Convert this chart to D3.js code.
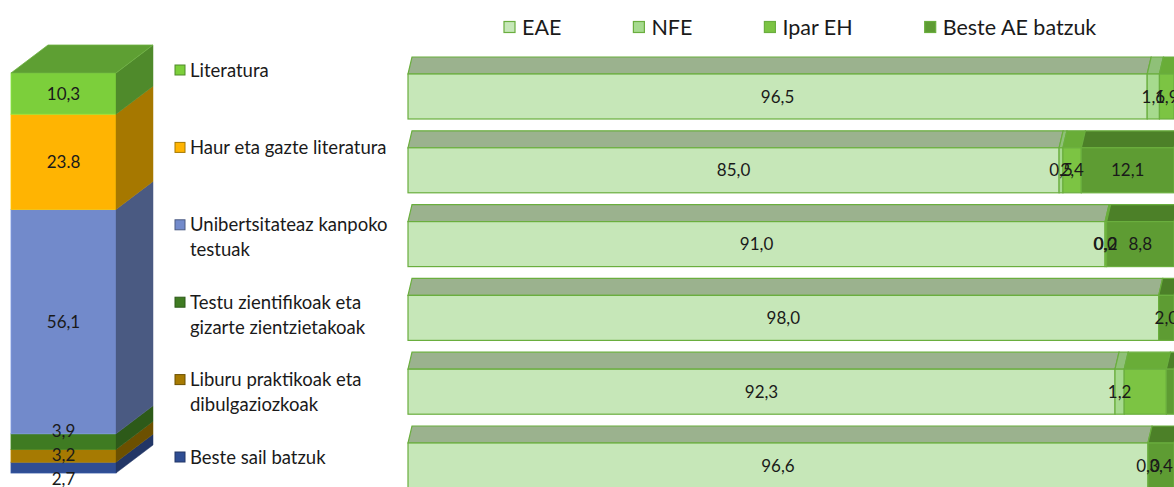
<!DOCTYPE html>
<html>
<head>
<meta charset="utf-8">
<script src="https://cdn.jsdelivr.net/npm/d3@7"></script>
<style>
  body { margin: 0; background: #fff; }
  text { font-family: Lato, "Open Sans", sans-serif; fill: #1a1a1a; }
</style>
</head>
<body>
<div id="chart"></div>
<script>
// categories, top to bottom
const categories = [
    "Literatura",
    "Haur eta gazte literatura",
    "Unibertsitateaz kanpoko testuak",
    "Testu zientifikoak eta gizarte zientzietakoak",
    "Liburu praktikoak eta dibulgaziozkoak",
    "Beste sail batzuk"
];
// legend lines (wrapped as in the picture)
const legendLines = [
    ["Literatura"],
    ["Haur eta gazte literatura"],
    ["Unibertsitateaz kanpoko", "testuak"],
    ["Testu zientifikoak eta", "gizarte zientzietakoak"],
    ["Liburu praktikoak eta", "dibulgaziozkoak"],
    ["Beste sail batzuk"]
];
// share of each category (left stacked column)
const shares = [10.3, 23.8, 56.1, 3.9, 3.2, 2.7];
const shareLabels = ["10,3", "23.8", "56,1", "3,9", "3,2", "2,7"];

// origin split per category (right bars), null = no label
const series = ["EAE", "NFE", "Ipar EH", "Beste AE batzuk"];
const eae   = [96.5, 85.0, 91.0, 98.0, 92.3, 96.6];
const nfe   = [1.6, 0.5, 0.0, null, 1.2, 0.0];
const ipar  = [1.9, 2.4, 0.2, null, 5.5, null];
const beste = [null, 12.1, 8.8, 2.0, 1.0, 3.4];
// labels removed in the original
const hiddenLabels = ["4|2", "4|3"];

const catColors = ["#7ccf3b", "#ffb402", "#728acb", "#3f7b22", "#a67a02", "#2f4d93"];
const catSide   = ["#4f8a2b", "#a67800", "#4a5a82", "#2d5a19", "#6c5000", "#223666"];
const serColors = ["#c6e7b8", "#a6da8e", "#7cc443", "#5e9c33"];
const serTop    = ["#9bb28e", "#8fc078", "#69ad38", "#4c8028"];
const edge = "#6aae3e";

const W = 1174, H = 487;
const svg = d3.select("#chart").append("svg")
    .attr("width", W)
    .attr("height", H);

const fmt = v => d3.format(".1f")(v).replace(".", ",");

// ---------- left stacked 3D column ----------
const y = d3.scaleLinear().domain([0, 100]).range([473, 73]);
const colX0 = 11, colX1 = 116, depthX = 37, depthY = -28;

let acc = 0;
const stack = shares.map((v, i) => ({i: i, v: v})).reverse().map(d => {
    const s = {i: d.i, v: d.v, y0: acc, y1: acc + d.v};
    acc += d.v;
    return s;
});

const col = svg.append("g");
col.selectAll("rect.front")
    .data(stack)
    .join("rect")
    .attr("class", "front")
    .attr("x", colX0)
    .attr("y", d => y(d.y1))
    .attr("width", colX1 - colX0)
    .attr("height", d => y(d.y0) - y(d.y1))
    .attr("fill", d => catColors[d.i])
    .attr("stroke", d => d3.color(catColors[d.i]).brighter(0.3))
    .attr("stroke-width", 0.8);

col.selectAll("path.side")
    .data(stack)
    .join("path")
    .attr("class", "side")
    .attr("d", d => `M${colX1},${y(d.y1)}L${colX1 + depthX},${y(d.y1) + depthY}` +
        `L${colX1 + depthX},${y(d.y0) + depthY}L${colX1},${y(d.y0)}Z`)
    .attr("fill", d => catSide[d.i])
    .attr("stroke", d => catSide[d.i])
    .attr("stroke-width", 0.5);

col.append("path")
    .attr("d", `M${colX0},${y(100)}L${colX1},${y(100)}L${colX1 + depthX},${y(100) + depthY}` +
        `L${colX0 + depthX},${y(100) + depthY}Z`)
    .attr("fill", "#5e9f33")
    .attr("stroke", "#6fb243")
    .attr("stroke-width", 0.8);

// label positions, pushed apart where segments are too thin
const labelPos = stack.map(d => ({i: d.i, y: y((d.y0 + d.y1) / 2)}));
for (let it = 0; it < 200; it++) {
    for (let k = 0; k < labelPos.length - 1; k++) {
        const a = labelPos[k], b = labelPos[k + 1];
        const gap = a.y - b.y;
        if (gap < 24) {
            const m = (24 - gap) / 2;
            a.y += m; b.y -= m;
        }
    }
}
col.selectAll("text")
    .data(labelPos)
    .join("text")
    .attr("x", (colX0 + colX1) / 2)
    .attr("y", d => d.y)
    .attr("dy", "0.36em")
    .attr("text-anchor", "middle")
    .style("font-size", "17px")
    .text(d => shareLabels[d.i]);

// ---------- category legend ----------
const ly = d3.scalePoint().domain(categories).range([70, 457]);
const leg = svg.append("g")
    .selectAll("g")
    .data(categories)
    .join("g")
    .attr("transform", d => `translate(175, ${ly(d)})`);
leg.append("rect")
    .attr("x", 0).attr("y", -5)
    .attr("width", 10).attr("height", 10)
    .attr("fill", (d, i) => catColors[i])
    .attr("stroke", (d, i) => catSide[i])
    .attr("stroke-width", 1);
leg.append("text")
    .style("font-size", "18.5px")
    .selectAll("tspan")
    .data((d, i) => legendLines[i])
    .join("tspan")
    .attr("x", 15)
    .attr("y", (d, j) => j * 25)
    .attr("dy", "0.36em")
    .text(d => d);

// ---------- right 3D bars ----------
const x = d3.scaleLinear().domain([0, 100]).range([408, 1174]);
const band = d3.scaleBand().domain(categories).range([57, 488]).paddingInner(0.16);
const topH = 17, topDx = 4;

const rows = categories.map((c, r) => {
    const vals = [eae[r], nfe[r], ipar[r], beste[r]];
    let a = 0;
    return vals.map((v, s) => {
        const seg = {row: r, cat: c, s: s, v: v, x0: a, x1: a + (v || 0)};
        a += (v || 0);
        return seg;
    });
});

const bars = svg.append("g")
    .selectAll("g")
    .data(rows)
    .join("g")
    .attr("transform", (d, r) => `translate(0, ${band(categories[r])})`);

bars.selectAll("path.top")
    .data(d => d.filter(s => s.v))
    .join("path")
    .attr("class", "top")
    .attr("d", s => `M${x(s.x0)},${topH}L${x(s.x1)},${topH}L${x(s.x1) + topDx},0L${x(s.x0) + topDx},0Z`)
    .attr("fill", s => serTop[s.s])
    .attr("stroke", edge)
    .attr("stroke-width", 1.2);

bars.selectAll("rect.front")
    .data(d => d.filter(s => s.v))
    .join("rect")
    .attr("class", "front")
    .attr("x", s => x(s.x0))
    .attr("y", topH)
    .attr("width", s => x(s.x1) - x(s.x0))
    .attr("height", band.bandwidth() - topH)
    .attr("fill", s => serColors[s.s])
    .attr("stroke", edge)
    .attr("stroke-width", 1.2);

bars.selectAll("text")
    .data(d => d.filter(s => s.v !== null && !hiddenLabels.includes(`${s.row}|${s.s}`)))
    .join("text")
    .attr("x", s => x((s.x0 + s.x1) / 2))
    .attr("y", topH + (band.bandwidth() - topH) / 2)
    .attr("dy", "0.36em")
    .attr("text-anchor", "middle")
    .style("font-size", "17px")
    .text(s => fmt(s.v));

// ---------- series legend ----------
const sl = svg.append("g").attr("transform", "translate(504, 27)");
let lx = 0;
series.forEach((name, i) => {
    const g = sl.append("g").attr("transform", `translate(${lx}, 0)`);
    g.append("rect")
        .attr("x", 0).attr("y", -5.5)
        .attr("width", 11).attr("height", 11)
        .attr("fill", serColors[i])
        .attr("stroke", edge)
        .attr("stroke-width", 1.2);
    const t = g.append("text")
        .attr("x", 18)
        .attr("dy", "0.36em")
        .style("font-size", "21.5px")
        .text(name);
    lx += 18 + t.node().getComputedTextLength() + 72;
});
</script>
</body>
</html>
